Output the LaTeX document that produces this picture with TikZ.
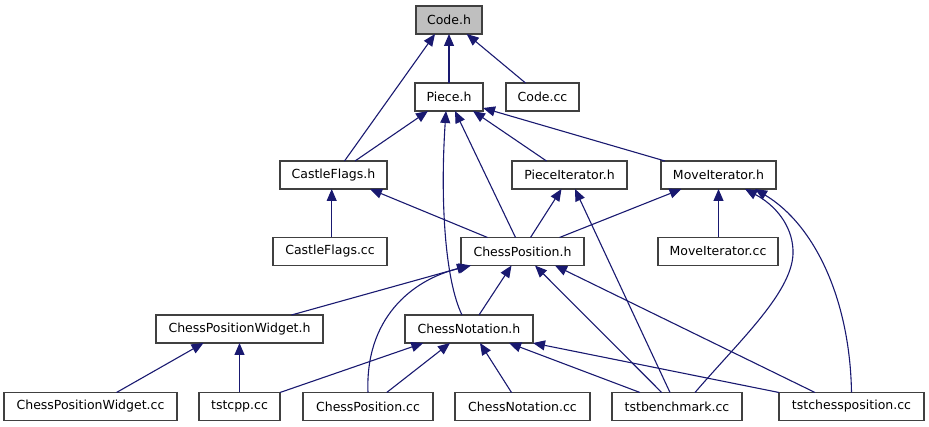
\documentclass[tikz,border=0pt]{standalone}
\usepackage{fontspec}
\setmainfont{DejaVu Sans}
\usetikzlibrary{arrows.meta}
\definecolor{edgeblue}{HTML}{191970}
\definecolor{boxline}{HTML}{404040}
\definecolor{rootfill}{HTML}{BFBFBF}
\tikzset{
  box/.style={draw=boxline, line width=1.2pt, fill=white, rectangle, inner sep=0pt, outer sep=0pt,
    minimum height=28pt, font=\fontsize{12.5}{14}\selectfont},
  rootbox/.style={box, fill=rootfill},
  dep/.style={draw=edgeblue, line width=1.1pt, {Triangle[length=12pt,width=10pt]}-}
}
\begin{document}
\begin{tikzpicture}[x=1pt,y=-1pt]
\useasboundingbox (0,0) rectangle (929,427);
% nodes
\node[rootbox, minimum width=66pt] (code) at (449,20) {Code.h};
\node[box, minimum width=68pt] (piece) at (449,97) {Piece.h};
\node[box, minimum width=73pt] (codecc) at (542.5,97) {Code.cc};
\node[box, minimum width=107pt] (cfh) at (333.5,175) {CastleFlags.h};
\node[box, minimum width=115pt] (pih) at (569.5,175) {PieceIterator.h};
\node[box, minimum width=115pt] (mih) at (718.5,175) {MoveIterator.h};
\node[box, minimum width=114pt] (cfcc) at (330,251.5) {CastleFlags.cc};
\node[box, minimum width=123pt] (cph) at (522.5,251.5) {ChessPosition.h};
\node[box, minimum width=120pt] (micc) at (718,251.5) {MoveIterator.cc};
\node[box, minimum width=167pt] (cpwh) at (239.5,329) {ChessPositionWidget.h};
\node[box, minimum width=128pt] (cnh) at (469,329) {ChessNotation.h};
\node[box, minimum width=173pt] (cpwcc) at (90.5,406.5) {ChessPositionWidget.cc};
\node[box, minimum width=81pt] (tstcpp) at (239.5,406.5) {tstcpp.cc};
\node[box, minimum width=130pt] (cpcc) at (368,406.5) {ChessPosition.cc};
\node[box, minimum width=135pt] (cncc) at (522.5,406.5) {ChessNotation.cc};
\node[box, minimum width=130pt] (tstb) at (677,406.5) {tstbenchmark.cc};
\node[box, minimum width=145pt] (tstcp) at (851.5,406.5) {tstchessposition.cc};
% edges (arrow tip at the included file)
\draw[dep] (code.south) -- (piece.north);
\draw[dep] ([xshift=17.7pt]code.south) -- ([xshift=-17pt]codecc.north);
\draw[dep] ([xshift=-14pt]code.south) -- ([xshift=11pt]cfh.north);
\draw[dep] ([xshift=-21pt]piece.south) -- ([xshift=21.5pt]cfh.north);
\draw[dep] ([xshift=24pt]piece.south) -- ([xshift=-23pt]pih.north);
\draw[dep] ([yshift=3pt]piece.south east) -- ([xshift=-53.5pt]mih.north);
\draw[dep] ([xshift=6pt]piece.south) -- ([xshift=-7pt]cph.north);
\draw[dep] ([xshift=-3pt]piece.south) .. controls (440,200) and (445,280) .. ([xshift=-7pt]cnh.north);
\draw[dep] ([xshift=36.5pt]cfh.south) -- ([xshift=-35pt]cph.north);
\draw[dep] ([xshift=-1.8pt]cfh.south) -- ([xshift=1.7pt]cfcc.north);
\draw[dep] ([xshift=-8pt]pih.south) -- ([xshift=8pt]cph.north);
\draw[dep] ([xshift=5.5pt]pih.south) -- ([xshift=-7pt]tstb.north);
\draw[dep] ([xshift=-37pt]mih.south) -- ([xshift=37pt]cph.north);
\draw[dep] (mih.south) -- ([xshift=0.5pt]micc.north);
\draw[dep] ([xshift=26.5pt]mih.south) .. controls (775,205) and (792,225) .. (793,250) .. controls (795,290) and (740,340) .. ([xshift=18pt]tstb.north);
\draw[dep] ([xshift=36.5pt]mih.south) .. controls (815,225) and (850,300) .. (tstcp.north);
\draw[dep] ([xshift=8pt]cph.south west) -- ([xshift=52pt]cpwh.north);
\draw[dep] ([xshift=10pt]cph.south west) .. controls (410,280) and (365,320) .. (cpcc.north);
\draw[dep] ([xshift=-11pt]cph.south) -- ([xshift=10pt]cnh.north);
\draw[dep] ([xshift=12.5pt]cph.south) -- ([xshift=-15.3pt]tstb.north);
\draw[dep] ([xshift=32.5pt]cph.south) -- ([xshift=-36.5pt]tstcp.north);
\draw[dep] ([xshift=-36pt]cpwh.south) -- ([xshift=26pt]cpwcc.north);
\draw[dep] (cpwh.south) -- (tstcpp.north);
\draw[dep] ([xshift=-45.7pt]cnh.south) -- (tstcpp.north east);
\draw[dep] ([xshift=-19pt]cnh.south) -- ([xshift=18.7pt]cpcc.north);
\draw[dep] ([xshift=11pt]cnh.south) -- ([xshift=-11pt]cncc.north);
\draw[dep] ([xshift=40pt]cnh.south) -- ([xshift=-37pt]tstb.north);
\draw[dep] (cnh.south east) -- (tstcp.north west);
\end{tikzpicture}
\end{document}
